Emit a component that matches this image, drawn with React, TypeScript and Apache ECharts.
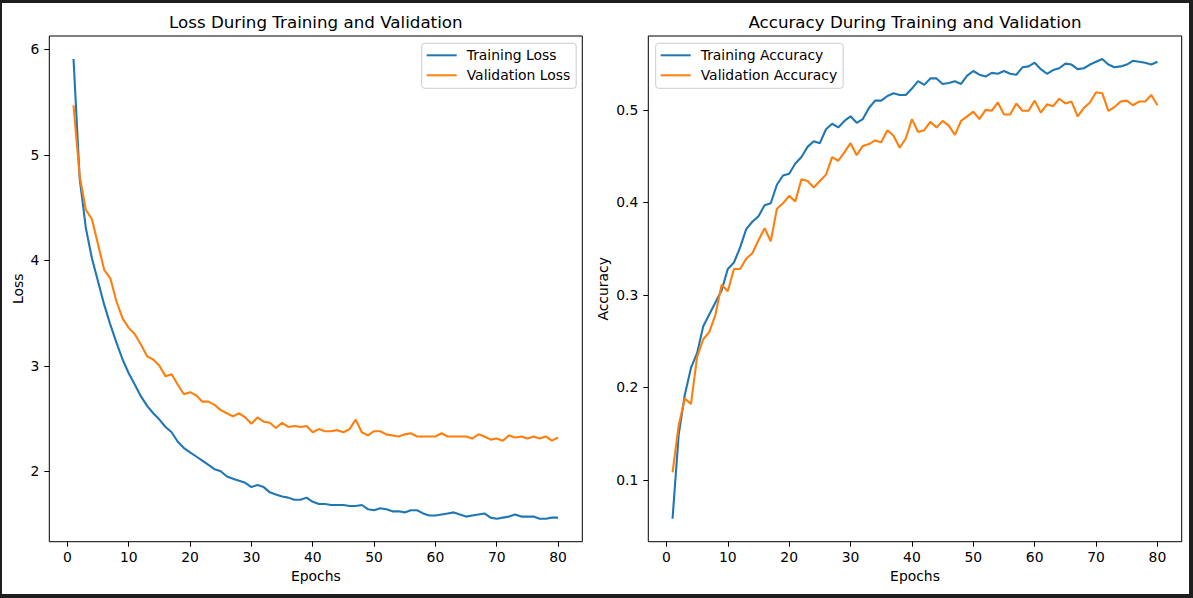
import React, { useEffect, useRef } from 'react';
import * as echarts from 'echarts';

const epochs = Array.from({ length: 80 }, (_, i) => i + 1);

const trainLoss = [
  5.91, 4.78, 4.31, 4.02, 3.80, 3.58, 3.39, 3.22, 3.06, 2.93,
  2.82, 2.71, 2.62, 2.55, 2.49, 2.42, 2.37, 2.28, 2.22, 2.18,
  2.14, 2.10, 2.06, 2.02, 2.00, 1.95, 1.93, 1.91, 1.89, 1.85,
  1.87, 1.85, 1.80, 1.78, 1.76, 1.75, 1.73, 1.73, 1.75, 1.71,
  1.69, 1.69, 1.68, 1.68, 1.68, 1.67, 1.67, 1.68, 1.64, 1.63,
  1.65, 1.64, 1.62, 1.62, 1.61, 1.63, 1.63, 1.60, 1.58, 1.58,
  1.59, 1.60, 1.61, 1.59, 1.57, 1.58, 1.59, 1.60, 1.56, 1.55,
  1.56, 1.57, 1.59, 1.57, 1.57, 1.57, 1.55, 1.55, 1.56, 1.56,
];

const valLoss = [
  5.47, 4.80, 4.48, 4.39, 4.15, 3.91, 3.83, 3.61, 3.45, 3.36,
  3.30, 3.20, 3.09, 3.06, 3.00, 2.90, 2.92, 2.82, 2.73, 2.75,
  2.72, 2.66, 2.66, 2.63, 2.58, 2.55, 2.52, 2.55, 2.51, 2.45,
  2.51, 2.47, 2.46, 2.41, 2.46, 2.42, 2.43, 2.42, 2.43, 2.37,
  2.40, 2.38, 2.38, 2.39, 2.37, 2.40, 2.49, 2.37, 2.34, 2.38,
  2.38, 2.35, 2.34, 2.33, 2.35, 2.36, 2.33, 2.33, 2.33, 2.33,
  2.36, 2.33, 2.33, 2.33, 2.33, 2.31, 2.35, 2.33, 2.30, 2.31,
  2.29, 2.34, 2.32, 2.33, 2.31, 2.33, 2.31, 2.33, 2.29, 2.32,
];

const trainAcc = [
  0.058, 0.149, 0.192, 0.221, 0.237, 0.266, 0.279, 0.292, 0.305, 0.328,
  0.335, 0.351, 0.371, 0.379, 0.385, 0.397, 0.399, 0.419, 0.429, 0.431,
  0.442, 0.449, 0.460, 0.466, 0.464, 0.479, 0.485, 0.481, 0.488, 0.493,
  0.486, 0.490, 0.502, 0.510, 0.510, 0.515, 0.518, 0.516, 0.516, 0.523,
  0.531, 0.527, 0.534, 0.534, 0.528, 0.529, 0.531, 0.528, 0.537, 0.542,
  0.538, 0.536, 0.540, 0.539, 0.542, 0.539, 0.538, 0.546, 0.547, 0.551,
  0.544, 0.539, 0.543, 0.545, 0.550, 0.549, 0.544, 0.545, 0.549, 0.552,
  0.555, 0.549, 0.546, 0.547, 0.549, 0.553, 0.552, 0.551, 0.549, 0.552,
];

const valAcc = [
  0.108, 0.159, 0.188, 0.182, 0.233, 0.252, 0.260, 0.279, 0.311, 0.304,
  0.328, 0.328, 0.339, 0.345, 0.359, 0.372, 0.358, 0.393, 0.399, 0.407,
  0.401, 0.425, 0.423, 0.416, 0.423, 0.430, 0.449, 0.445, 0.454, 0.464,
  0.451, 0.461, 0.463, 0.467, 0.465, 0.478, 0.472, 0.459, 0.469, 0.490,
  0.476, 0.478, 0.487, 0.481, 0.488, 0.483, 0.473, 0.488, 0.493, 0.498,
  0.490, 0.500, 0.499, 0.508, 0.495, 0.495, 0.507, 0.499, 0.499, 0.510,
  0.497, 0.506, 0.504, 0.512, 0.507, 0.509, 0.493, 0.502, 0.508, 0.519,
  0.518, 0.499, 0.503, 0.509, 0.510, 0.505, 0.509, 0.509, 0.516, 0.505,
];

const xTicks = [0, 10, 20, 30, 40, 50, 60, 70, 80];
const lossTicks = [2, 3, 4, 5, 6];
const accTicks = [0.1, 0.2, 0.3, 0.4, 0.5];

const BLUE = '#1f77b4';
const ORANGE = '#ff7f0e';
const FONT = 'DejaVu Sans';

// matplotlib-style 5% margins around the data
const padded = (vals: number[]) => {
  const lo = Math.min(...vals);
  const hi = Math.max(...vals);
  const m = (hi - lo) * 0.05;
  return [lo - m, hi + m];
};

const pairs = (ys: number[]) => ys.map((v, i) => [epochs[i], v]);

const App: React.FC = () => {
  const chartRef = useRef<HTMLDivElement>(null);

  useEffect(() => {
    if (!chartRef.current) return;
    const chart = echarts.init(chartRef.current, undefined, { renderer: 'svg' });

    const [xMin, xMax] = padded(epochs);
    const [lMin, lMax] = padded([...trainLoss, ...valLoss]);
    const [aMin, aMax] = padded([...trainAcc, ...valAcc]);

    const tickLabel = { color: '#000', fontSize: 13.9, fontFamily: FONT };
    const tick = { show: true, length: 5, lineStyle: { color: '#000', width: 1 } };

    const xAxisBase = (gridIndex: number) => ({
      type: 'value' as const,
      gridIndex,
      min: xMin,
      max: xMax,
      name: 'Epochs',
      nameLocation: 'middle' as const,
      nameGap: 27,
      nameTextStyle: tickLabel,
      axisLine: { show: false, onZero: false },
      axisTick: { ...tick, customValues: xTicks },
      axisLabel: { ...tickLabel, margin: 8, customValues: xTicks },
      splitLine: { show: false },
    });

    const legendBase = {
      orient: 'vertical' as const,
      icon: 'rect',
      itemWidth: 30,
      itemHeight: 2,
      itemGap: 6,
      padding: [5, 6, 6, 5],
      borderColor: '#cccccc',
      borderWidth: 1,
      borderRadius: 3,
      backgroundColor: 'rgba(255,255,255,0.8)',
      textStyle: { color: '#000', fontSize: 13.9, fontFamily: FONT, padding: [0, 0, 0, 5] },
    };

    const lineSeries = (name: string, data: number[], color: string, idx: number) => ({
      name,
      type: 'line' as const,
      xAxisIndex: idx,
      yAxisIndex: idx,
      data: pairs(data),
      showSymbol: false,
      symbol: 'none',
      color,
      lineStyle: { color, width: 2.1 },
    });

    chart.setOption({
      animation: false,
      textStyle: { fontFamily: FONT },
      grid: [
        { left: 49.3, top: 36, width: 533, height: 505.7, show: true, borderColor: '#000', borderWidth: 1 },
        { left: 648.3, top: 36, width: 533.4, height: 505.7, show: true, borderColor: '#000', borderWidth: 1 },
      ],
      xAxis: [xAxisBase(0), xAxisBase(1)],
      yAxis: [
        {
          type: 'value',
          gridIndex: 0,
          min: lMin,
          max: lMax,
          name: 'Loss',
          nameLocation: 'middle',
          nameGap: 24,
          nameTextStyle: tickLabel,
          axisLine: { show: false, onZero: false },
          axisTick: { ...tick, customValues: lossTicks },
          axisLabel: { ...tickLabel, margin: 10, customValues: lossTicks, formatter: (v: number) => String(v) },
          splitLine: { show: false },
        },
        {
          type: 'value',
          gridIndex: 1,
          min: aMin,
          max: aMax,
          name: 'Accuracy',
          nameLocation: 'middle',
          nameGap: 38,
          nameTextStyle: tickLabel,
          axisLine: { show: false, onZero: false },
          axisTick: { ...tick, customValues: accTicks },
          axisLabel: { ...tickLabel, margin: 10, customValues: accTicks, formatter: (v: number) => v.toFixed(1) },
          splitLine: { show: false },
        },
      ],
      legend: [
        { ...legendBase, left: 421.7, top: 43.3, data: ['Training Loss', 'Validation Loss'] },
        { ...legendBase, left: 655.7, top: 43.3, data: ['Training Accuracy', 'Validation Accuracy'] },
      ],
      graphic: [
        {
          type: 'text',
          x: 315.8,
          y: 22,
          style: {
            text: 'Loss During Training and Validation',
            textAlign: 'center',
            textVerticalAlign: 'middle',
            fontSize: 16.7,
            fontFamily: FONT,
            fill: '#000',
          },
        },
        {
          type: 'text',
          x: 915,
          y: 22,
          style: {
            text: 'Accuracy During Training and Validation',
            textAlign: 'center',
            textVerticalAlign: 'middle',
            fontSize: 16.7,
            fontFamily: FONT,
            fill: '#000',
          },
        },
      ],
      series: [
        lineSeries('Training Loss', trainLoss, BLUE, 0),
        lineSeries('Validation Loss', valLoss, ORANGE, 0),
        lineSeries('Training Accuracy', trainAcc, BLUE, 1),
        lineSeries('Validation Accuracy', valAcc, ORANGE, 1),
      ],
    });

    return () => {
      chart.dispose();
    };
  }, []);

  return (
    <div style={{ position: 'fixed', left: 0, top: 0, width: 1193, height: 598, background: '#1e1e1e' }}>
      <div style={{ position: 'absolute', left: 2, top: 3, width: 1187, height: 591, background: '#fff' }} />
      <div ref={chartRef} style={{ position: 'absolute', left: 0, top: 0, width: 1193, height: 598 }} />
    </div>
  );
};

export default App;
